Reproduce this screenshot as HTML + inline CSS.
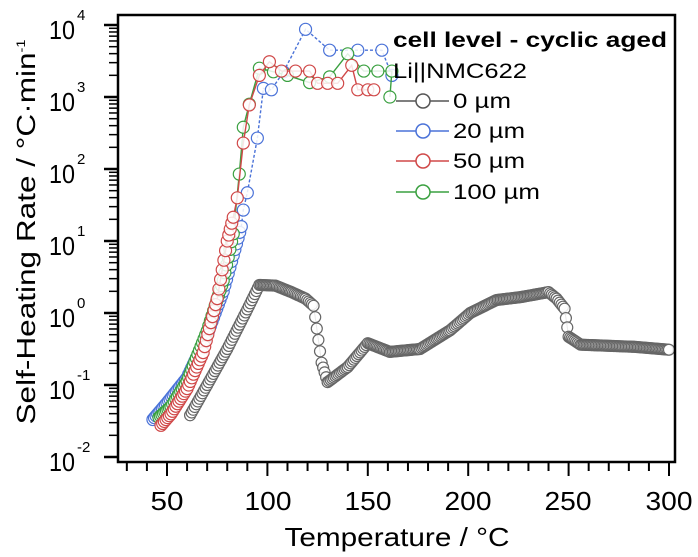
<!DOCTYPE html>
<html><head><meta charset="utf-8"><style>
html,body{margin:0;padding:0;background:#fff;}
svg{display:block;font-family:"Liberation Sans",sans-serif;}
</style></head><body>
<svg id="s" width="698" height="557" viewBox="0 0 698 557" xmlns="http://www.w3.org/2000/svg">
<rect width="698" height="557" fill="#fff"/>
<g id="data"></g>
<rect x="118" y="15" width="557" height="447" fill="none" stroke="#000" stroke-width="2.5"/>
<g id="ticks" stroke="#000"></g>
<g font-size="26" fill="#000" text-anchor="middle">
<text x="167" y="510" textLength="33" lengthAdjust="spacingAndGlyphs">50</text>
<text x="268" y="510" textLength="47" lengthAdjust="spacingAndGlyphs">100</text>
<text x="368" y="510" textLength="47" lengthAdjust="spacingAndGlyphs">150</text>
<text x="468" y="510" textLength="47" lengthAdjust="spacingAndGlyphs">200</text>
<text x="568" y="510" textLength="47" lengthAdjust="spacingAndGlyphs">250</text>
<text x="669" y="510" textLength="47" lengthAdjust="spacingAndGlyphs">300</text>
<text x="397" y="546" textLength="225" lengthAdjust="spacingAndGlyphs">Temperature / °C</text>
</g>
<g font-size="26" fill="#000" id="ylab"></g>
<text transform="translate(35,232) rotate(-90)" font-size="26" text-anchor="middle" textLength="385" lengthAdjust="spacingAndGlyphs">Self-Heating Rate / °C·min<tspan font-size="12" dy="-10">-1</tspan></text>
<g id="leg"></g>
</svg>
<script>
const NS="http://www.w3.org/2000/svg";
function el(p,t,a,txt){const e=document.createElementNS(NS,t);for(const k in a)e.setAttribute(k,a[k]);if(txt!==undefined)e.textContent=txt;p.appendChild(e);return e;}
const X=T=>167+(T-50)*2.008, Y=l=>457-72*(l+2);
const tk=document.getElementById('ticks');
for(let T=30;T<=300;T+=10){const x=X(T);el(tk,'line',{x1:x,x2:x,y1:462,y2:T%50==0?476:471,'stroke-width':2});}
const yl=document.getElementById('ylab');
for(let d=-2;d<=4;d++){const y=Y(d);el(tk,'line',{x1:104,x2:118,y1:y,y2:y,'stroke-width':2.5});
 el(yl,'text',{x:75,y:y+14,'text-anchor':'end',textLength:26,lengthAdjust:'spacingAndGlyphs'},'10');
 el(yl,'text',{x:77,y:y-5,'font-size':15},String(d));
 if(d<4)for(let m=2;m<10;m++){const yy=Y(d+Math.log10(m));el(tk,'line',{x1:109,x2:118,y1:yy,y2:yy,'stroke-width':1.5});}}
const g=document.getElementById('data');
function interp(pts,step){const out=[];for(let i=0;i<pts.length-1;i++){const [a,b]=pts[i],[c,d]=pts[i+1];const n=Math.max(1,Math.round((c-a)/step));for(let j=0;j<n;j++){const f=j/n;out.push([a+(c-a)*f,b+(d-b)*f]);}}out.push(pts[pts.length-1]);return out;}
function series(pts,col,r,lw,dash){const p=pts.map(q=>X(q[0]).toFixed(1)+','+Y(q[1]).toFixed(1)).join(' ');
 el(g,'polyline',{points:p,fill:'none',stroke:col,'stroke-width':lw,'stroke-dasharray':dash||'none'});
 pts.forEach(q=>el(g,'circle',{cx:X(q[0]),cy:Y(q[1]),r:r,fill:'#fff','fill-opacity':0.85,stroke:col,'stroke-width':1.2}));}
const gray=interp([[61.5,-1.42],[70,-1.0],[80,-0.5],[90,0.05],[96,0.39],[104,0.38],[112,0.29],[119,0.2],[123,0.1],[127,-0.69],[130,-0.96],[140,-0.75],[150,-0.42],[161,-0.54],[176,-0.5],[191,-0.24],[201,0.0],[214,0.18],[226,0.22],[240,0.29],[244,0.2],[248,0.06],[250,-0.33],[256,-0.44],[283,-0.47],[300,-0.51]],0.75);
series(gray,'#666',5.5,1);
const blue=interp([[43,-1.48],[50,-1.25],[60,-0.9],[70,-0.3],[78,0.3],[83,0.8],[87,1.2]],0.8).concat([[88,1.43],[90,1.67],[95,2.43],[98,3.12],[102,3.1],[108,3.35],[119,3.94],[131,3.65],[145,3.65],[157,3.65],[162,3.3]]);
series(blue,'#4a72d8',6,1.4,'3,2');
const green=interp([[46,-1.45],[52,-1.3],[60,-0.95],[70,-0.25],[78,0.45],[83,1.1]],0.8).concat([[86,1.93],[88,2.58],[91,2.9],[96,3.4],[103,3.35],[110,3.3],[121,3.2],[131,3.28],[140,3.6],[148,3.36],[155,3.36],[162,3.36],[161,3.0]]);
series(green,'#3aa040',6,1.4);
const red=interp([[47,-1.56],[52,-1.4],[60,-1.05],[68,-0.55],[75,0.2],[80,1.0],[83,1.33]],0.8).concat([[85,1.6],[88,2.36],[91,2.89],[96,3.3],[101,3.49],[107,3.36],[114,3.36],[121,3.36],[125,3.19],[130,3.19],[135,3.19],[142,3.44],[145,3.1],[150,3.1],[153,3.1]]);
series(red,'#d04848',6,1.4);
const L=document.getElementById('leg');
el(L,'text',{x:393,y:47,'font-size':21,'font-weight':'bold',textLength:274,lengthAdjust:'spacingAndGlyphs'},'cell level - cyclic aged');
el(L,'text',{x:393,y:78,'font-size':21,textLength:134,lengthAdjust:'spacingAndGlyphs'},'Li||NMC622');
[['0 µm','#555',108,58],['20 µm','#4a72d8',138,72],['50 µm','#d04848',168,72],['100 µm','#3aa040',199,87]].forEach(([t,c,y,w])=>{
 el(L,'line',{x1:396,x2:449,y1:y-7,y2:y-7,stroke:c,'stroke-width':1.5});
 el(L,'circle',{cx:423,cy:y-7,r:7,fill:'#fff',stroke:c,'stroke-width':1.5});
 el(L,'text',{x:453,y:y,'font-size':21,textLength:w,lengthAdjust:'spacingAndGlyphs'},t);});
</script>
</body></html>
